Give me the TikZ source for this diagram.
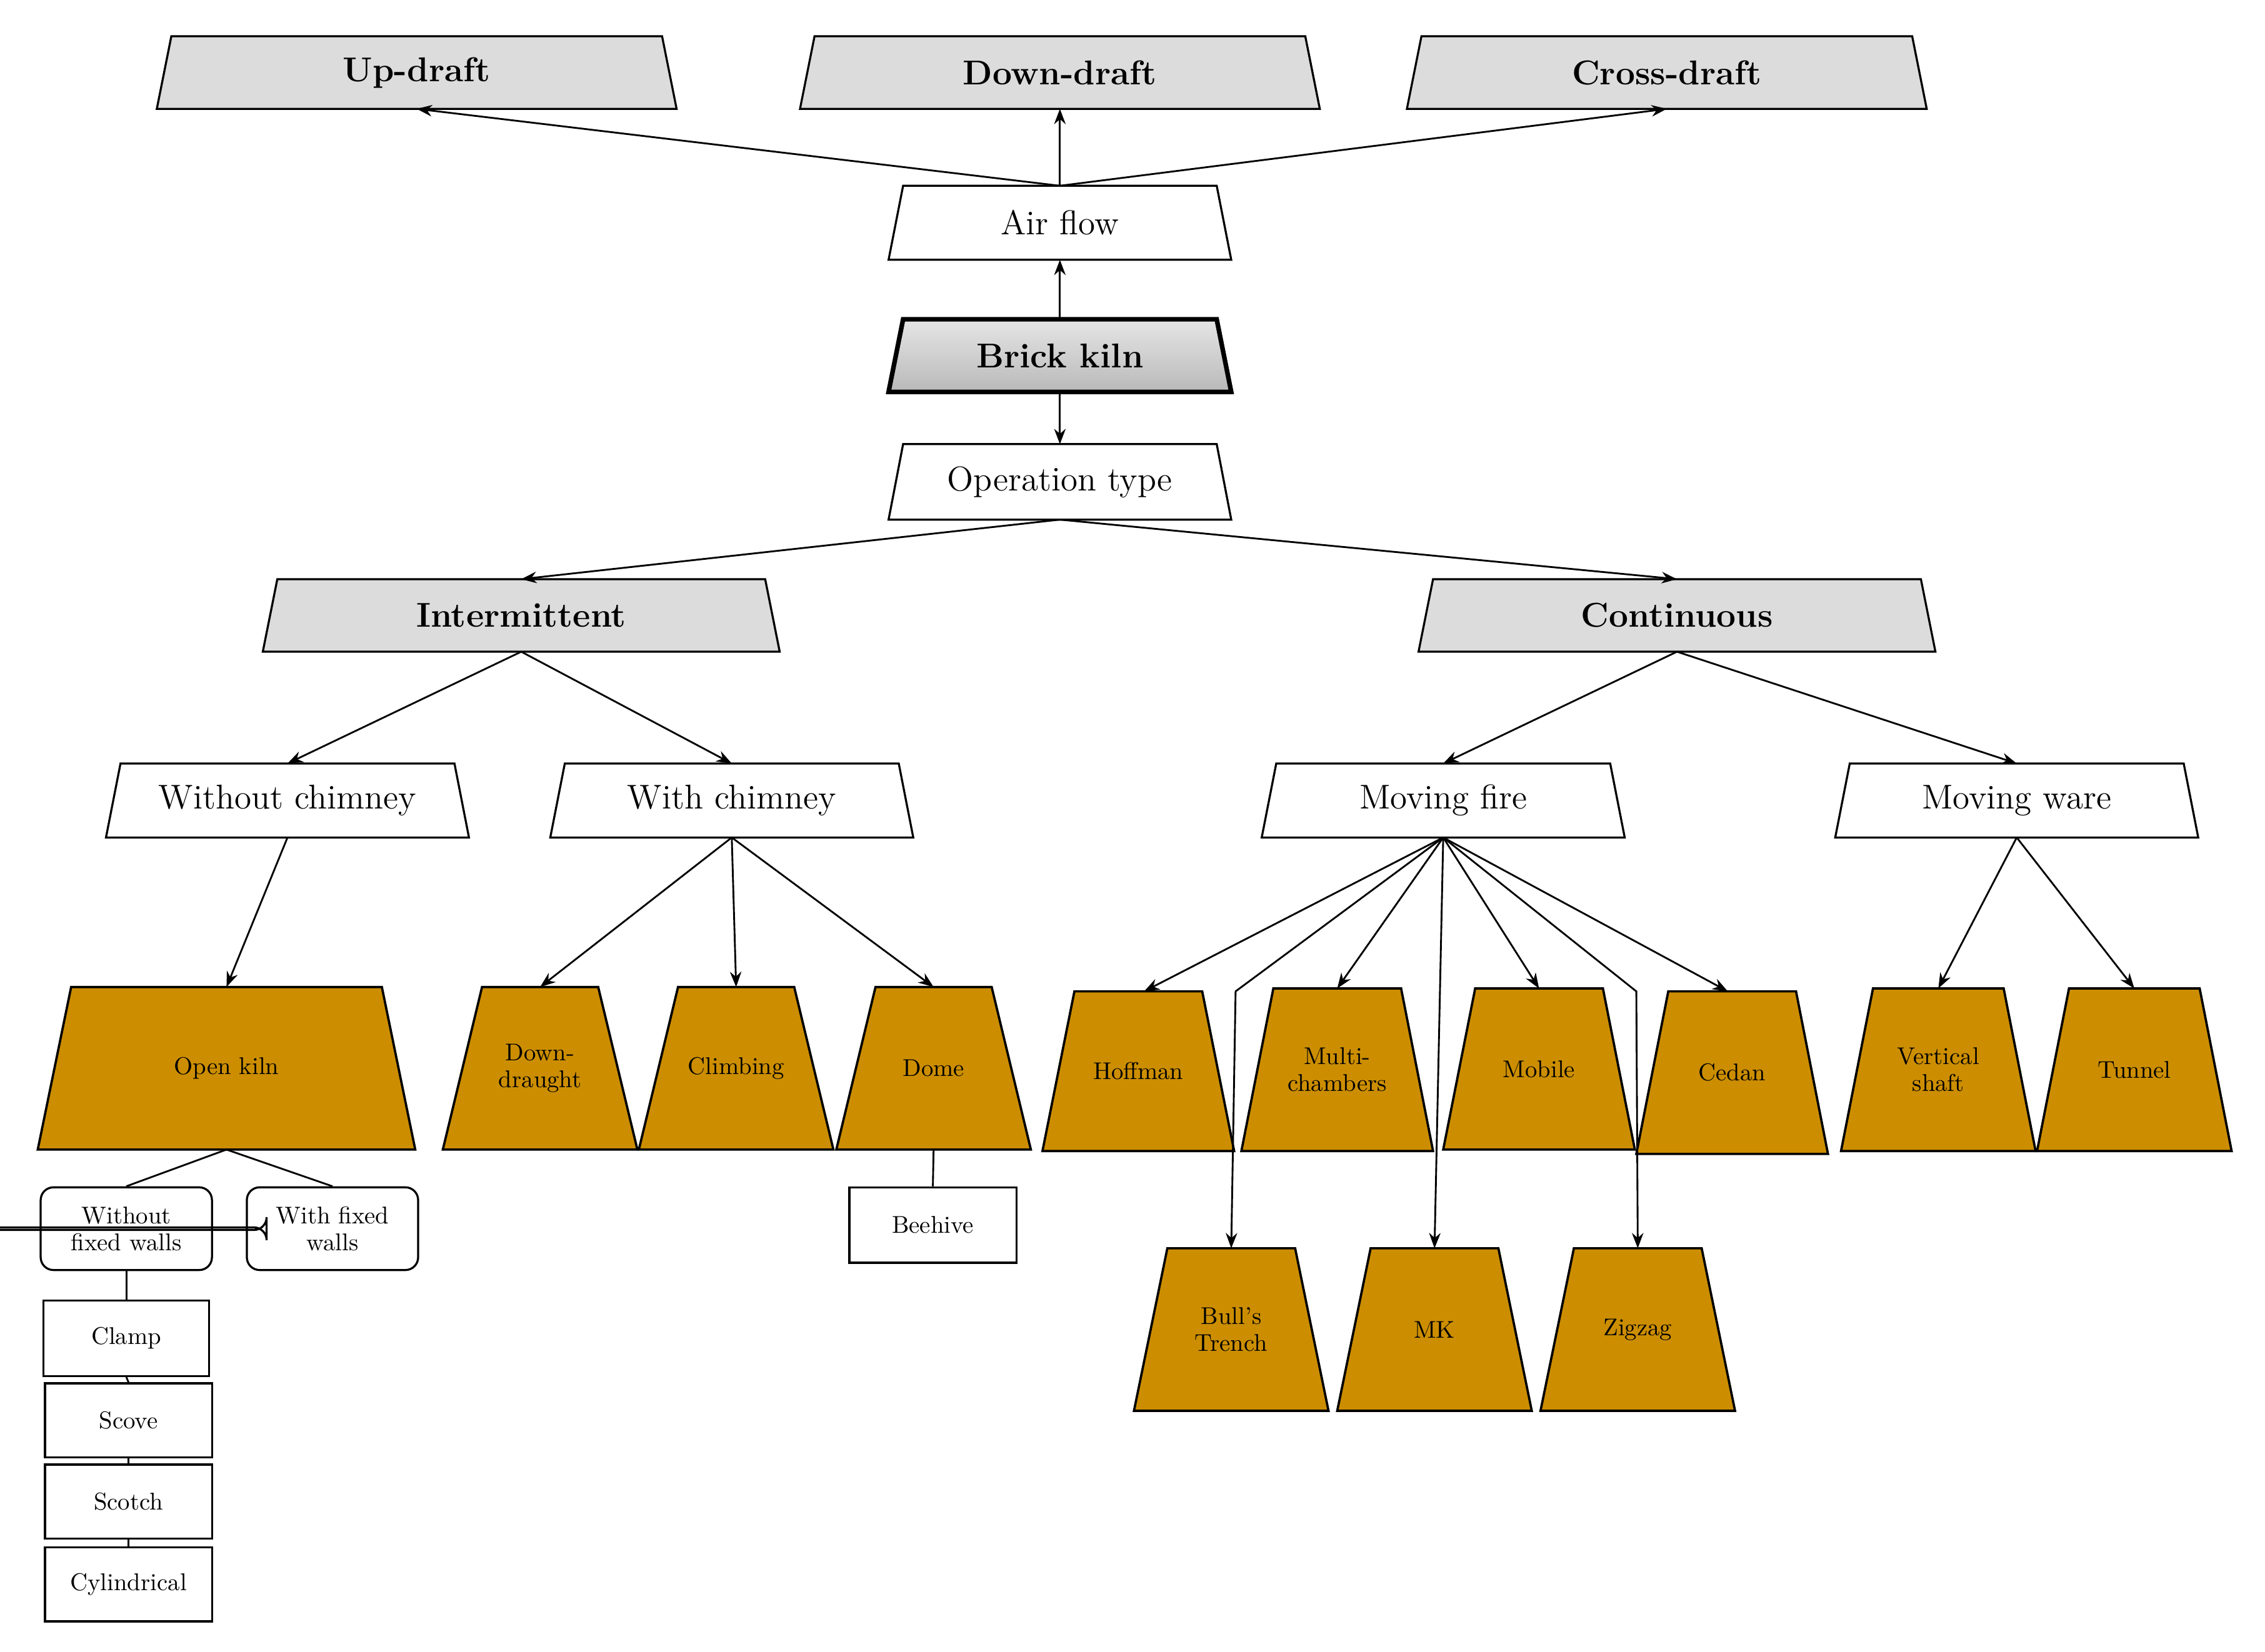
\documentclass[tikz,border=0pt]{standalone}
\usetikzlibrary{arrows.meta}
\definecolor{ora}{HTML}{CC8E00}
\definecolor{gbox}{HTML}{DCDCDC}
\newcommand\tz[9]{%
  \path[#7] (#2-#5+#6,#3) -- (#2+#5-#6,#3) -- (#2+#5,#4) -- (#2-#5,#4) -- cycle;
  \node[align=center,font=#8,inner sep=0pt] (#1) at (#2,{(#3+#4)/2}) {#9};
  \coordinate (#1-t) at (#2,#3); \coordinate (#1-b) at (#2,#4);}
\begin{document}
\begin{tikzpicture}[x=0.02cm,y=-0.02cm,
  wb/.style={draw=black,line width=0.8pt,fill=white},
  gb/.style={draw=black,line width=0.8pt,fill=gbox},
  ob/.style={draw=black,line width=0.9pt,fill=ora},
  bk/.style={draw=black,line width=1.8pt,top color=gray!20,bottom color=gray!55},
  rb/.style={draw=black,line width=0.8pt,rounded corners=5pt,align=center,font=\fontsize{9.5}{10.5}\selectfont,inner sep=0pt},
  sb/.style={draw=black,line width=0.8pt,align=center,font=\fontsize{9.5}{10.5}\selectfont,inner sep=0pt},
  ar/.style={-{Stealth[length=6pt,width=4.5pt]},line width=0.7pt},
  ln/.style={line width=0.7pt}]
\useasboundingbox (0,0) rectangle (1560,1138);
\def\big{\fontsize{13.5}{15}\selectfont}
\def\bigb{\fontsize{13.5}{15}\selectfont\bfseries}
\def\sm{\fontsize{9.5}{10.5}\selectfont}
% top row
\tz{up}{287}{25}{75}{179}{10}{gb}{\bigb}{Up-draft}
\tz{down}{730}{25}{75}{179}{10}{gb}{\bigb}{Down-draft}
\tz{cross}{1148}{25}{75}{179}{10}{gb}{\bigb}{Cross-draft}
\tz{air}{730}{128}{179}{118}{10}{wb}{\big}{Air flow}
\tz{brick}{730}{220}{270}{118}{10}{bk}{\bigb}{Brick kiln}
\tz{op}{730}{306}{358}{118}{10}{wb}{\big}{Operation type}
\tz{inter}{359}{399}{449}{178}{10}{gb}{\bigb}{Intermittent}
\tz{cont}{1155}{399}{449}{178}{10}{gb}{\bigb}{Continuous}
\tz{woc}{198}{526}{577}{125}{10}{wb}{\big}{Without chimney}
\tz{wc}{504}{526}{577}{125}{10}{wb}{\big}{With chimney}
\tz{mf}{994}{526}{577}{125}{10}{wb}{\big}{Moving fire}
\tz{mw}{1389}{526}{577}{125}{10}{wb}{\big}{Moving ware}
% orange
\tz{open}{156}{680}{792}{130}{23}{ob}{\sm}{Open kiln}
\tz{dd}{372}{680}{792}{67}{27}{ob}{\sm}{Down-\\draught}
\tz{clim}{507}{680}{792}{67}{27}{ob}{\sm}{Climbing}
\tz{dome}{643}{680}{792}{67}{27}{ob}{\sm}{Dome}
\tz{hof}{784}{683}{793}{66}{22}{ob}{\sm}{Hoffman}
\tz{multi}{921}{681}{793}{66}{22}{ob}{\sm}{Multi-\\chambers}
\tz{mob}{1060}{681}{792}{66}{22}{ob}{\sm}{Mobile}
\tz{ced}{1193}{683}{795}{66}{22}{ob}{\sm}{Cedan}
\tz{vs}{1335}{681}{793}{67}{22}{ob}{\sm}{Vertical\\shaft}
\tz{tun}{1470}{681}{793}{67}{22}{ob}{\sm}{Tunnel}
\tz{bull}{848}{860}{972}{67}{23}{ob}{\sm}{Bull's\\Trench}
\tz{mk}{988}{860}{972}{67}{23}{ob}{\sm}{MK}
\tz{zig}{1128}{860}{972}{67}{23}{ob}{\sm}{Zigzag}
% small boxes
\node[rb,minimum width=118\pgflinewidth,text width=110] (wofw) at (87,846.5) {};
\node[rb,minimum width=2.36cm,minimum height=1.14cm] (wofw) at (87,846.5) {Without\\fixed walls};
\node[rb,minimum width=2.36cm,minimum height=1.14cm] (wfw) at (229,846.5) {With fixed\\walls};
\node[sb,minimum width=2.28cm,minimum height=1.04cm] (clamp) at (87,922) {Clamp};
\node[sb,minimum width=2.3cm,minimum height=1.02cm] (scove) at (88.5,978.5) {Scove};
\node[sb,minimum width=2.3cm,minimum height=1.02cm] (scotch) at (88.5,1034.5) {Scotch};
\node[sb,minimum width=2.3cm,minimum height=1.02cm] (cyl) at (88.5,1091.5) {Cylindrical};
\node[sb,minimum width=2.3cm,minimum height=1.04cm] (bee) at (642.5,844) {Beehive};
% connectors
\coordinate (a0) at (730,128);
\draw[ar] (a0) -- (up-b);
\draw[ar] (a0) -- (down-b);
\draw[ar] (a0) -- (cross-b);
\draw[ar] (brick-t) -- (air-b);
\draw[ar] (brick-b) -- (op-t);
\draw[ar] (op-b) -- (inter-t);
\draw[ar] (op-b) -- (cont-t);
\draw[ar] (inter-b) -- (woc-t);
\draw[ar] (inter-b) -- (wc-t);
\draw[ar] (cont-b) -- (mf-t);
\draw[ar] (cont-b) -- (mw-t);
\draw[ar] (woc-b) -- (open-t);
\draw[ar] (wc-b) -- (dd-t);
\draw[ar] (wc-b) -- (clim-t);
\draw[ar] (wc-b) -- (dome-t);
\draw[ar] (mf-b) -- (788,683);
\draw[ar] (mf-b) -- (multi-t);
\draw[ar] (mf-b) -- (mob-t);
\draw[ar] (mf-b) -- (1190,683);
\coordinate (k1) at (851,683);
\coordinate (k3) at (1127,683);
\draw[ar] (mf-b) -- (k1) -- (bull-t);
\draw[ar] (mf-b) -- (mk-t);
\draw[ar] (mf-b) -- (k3) -- (zig-t);
\draw[ar] (mw-b) -- (vs-t);
\draw[ar] (mw-b) -- (tun-t);
\draw[ln] (open-b) -- (wofw.north);
\draw[ln] (open-b) -- (wfw.north);
\draw[ln] (wofw.south) -- (clamp.north);
\draw[ln] (clamp.south) -- (scove.north);
\draw[ln] (scove.south) -- (scotch.north);
\draw[ln] (scotch.south) -- (cyl.north);
\draw[ln] (dome-b) -- (bee.north);
\end{tikzpicture}
\end{document}
